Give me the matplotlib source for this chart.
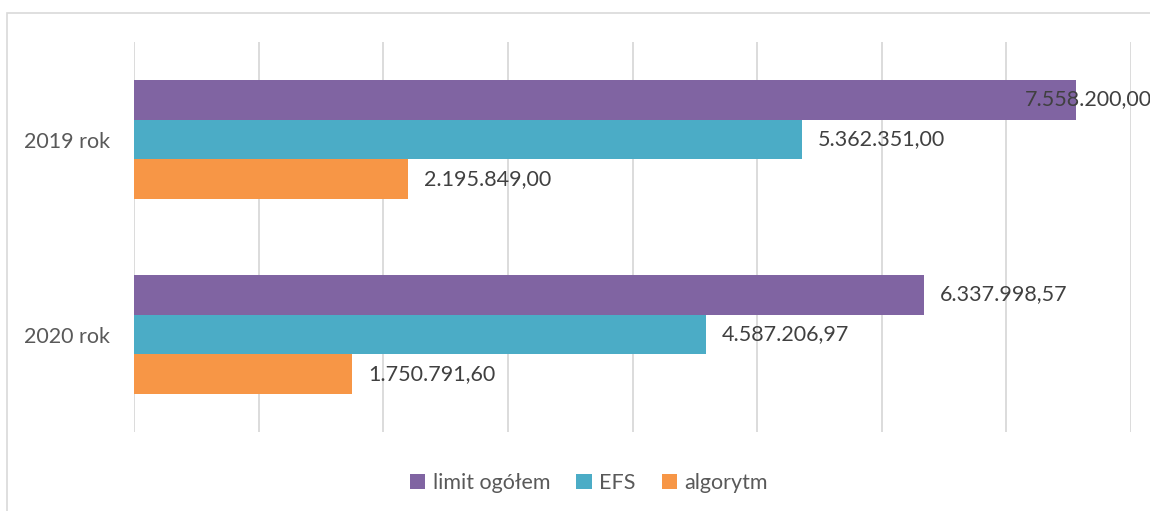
import matplotlib
matplotlib.use("Agg")
import matplotlib.pyplot as plt
from matplotlib.patches import Rectangle, Patch

categories = ["2019 rok", "2020 rok"]
series_names = ["limit ogółem", "EFS", "algorytm"]
limit_ogolem = [7558200.00, 6337998.57]
efs = [5362351.00, 4587206.97]
algorytm = [2195849.00, 1750791.60]
value_labels = [
    ["7.558.200,00", "6.337.998,57"],
    ["5.362.351,00", "4.587.206,97"],
    ["2.195.849,00", "1.750.791,60"],
]
colors = ["#8064A2", "#4BACC6", "#F79646"]

plt.rcParams['font.family'] = ['Lato', 'DejaVu Sans']

fig = plt.figure(figsize=(11.5, 5.11), dpi=100)
ax = fig.add_axes([134/1150, 79/511, (1131-134)/1150, (432-42)/511])

# outer chart border
fig.patches.append(Rectangle((7/1150, -0.05), 1.2, (511-13)/511 + 0.05,
                             transform=fig.transFigure, fill=False,
                             edgecolor="#D9D9D9", linewidth=1.2, clip_on=False))

h = 0.205
offsets = [-h, 0, h]
data = [limit_ogolem, efs, algorytm]
ypos = list(range(len(categories)))
fs = 15.5
for si, (vals, col, off) in enumerate(zip(data, colors, offsets)):
    ys = [y + off for y in ypos]
    ax.barh(ys, vals, height=h, color=col, label=series_names[si], zorder=3)
    for ci, (y, v) in enumerate(zip(ys, vals)):
        dx = 11.5
        if si == 0 and ci == 0:
            dx = -37
        ax.annotate(value_labels[si][ci], (v, y), xytext=(dx, 0),
                    textcoords="offset points", ha="left", va="center",
                    fontsize=fs, color="#404040", zorder=5,
                    annotation_clip=False)

ax.set_xlim(0, 8000000)
ax.set_ylim(1.5, -0.5)
ax.set_xticks(range(0, 8000001, 1000000))
ax.set_xticklabels([])
ax.tick_params(axis='x', length=0)
ax.grid(axis='x', color="#D9D9D9", linewidth=1.3, zorder=0)
ax.set_yticks(ypos)
ax.set_yticklabels(categories, fontsize=fs, color="#595959")
ax.tick_params(axis='y', length=0, pad=17)
for s in ax.spines.values():
    s.set_visible(False)

handles = [Patch(facecolor=c, edgecolor='none') for c in colors]
fig.legend(handles, series_names, loc='center', bbox_to_anchor=(589/1150, 1-483/511),
           ncol=3, frameon=False, fontsize=fs, labelcolor="#595959",
           handlelength=0.72, handleheight=0.72, handletextpad=0.35, columnspacing=1.2)

fig.savefig("out.png", dpi=100)
